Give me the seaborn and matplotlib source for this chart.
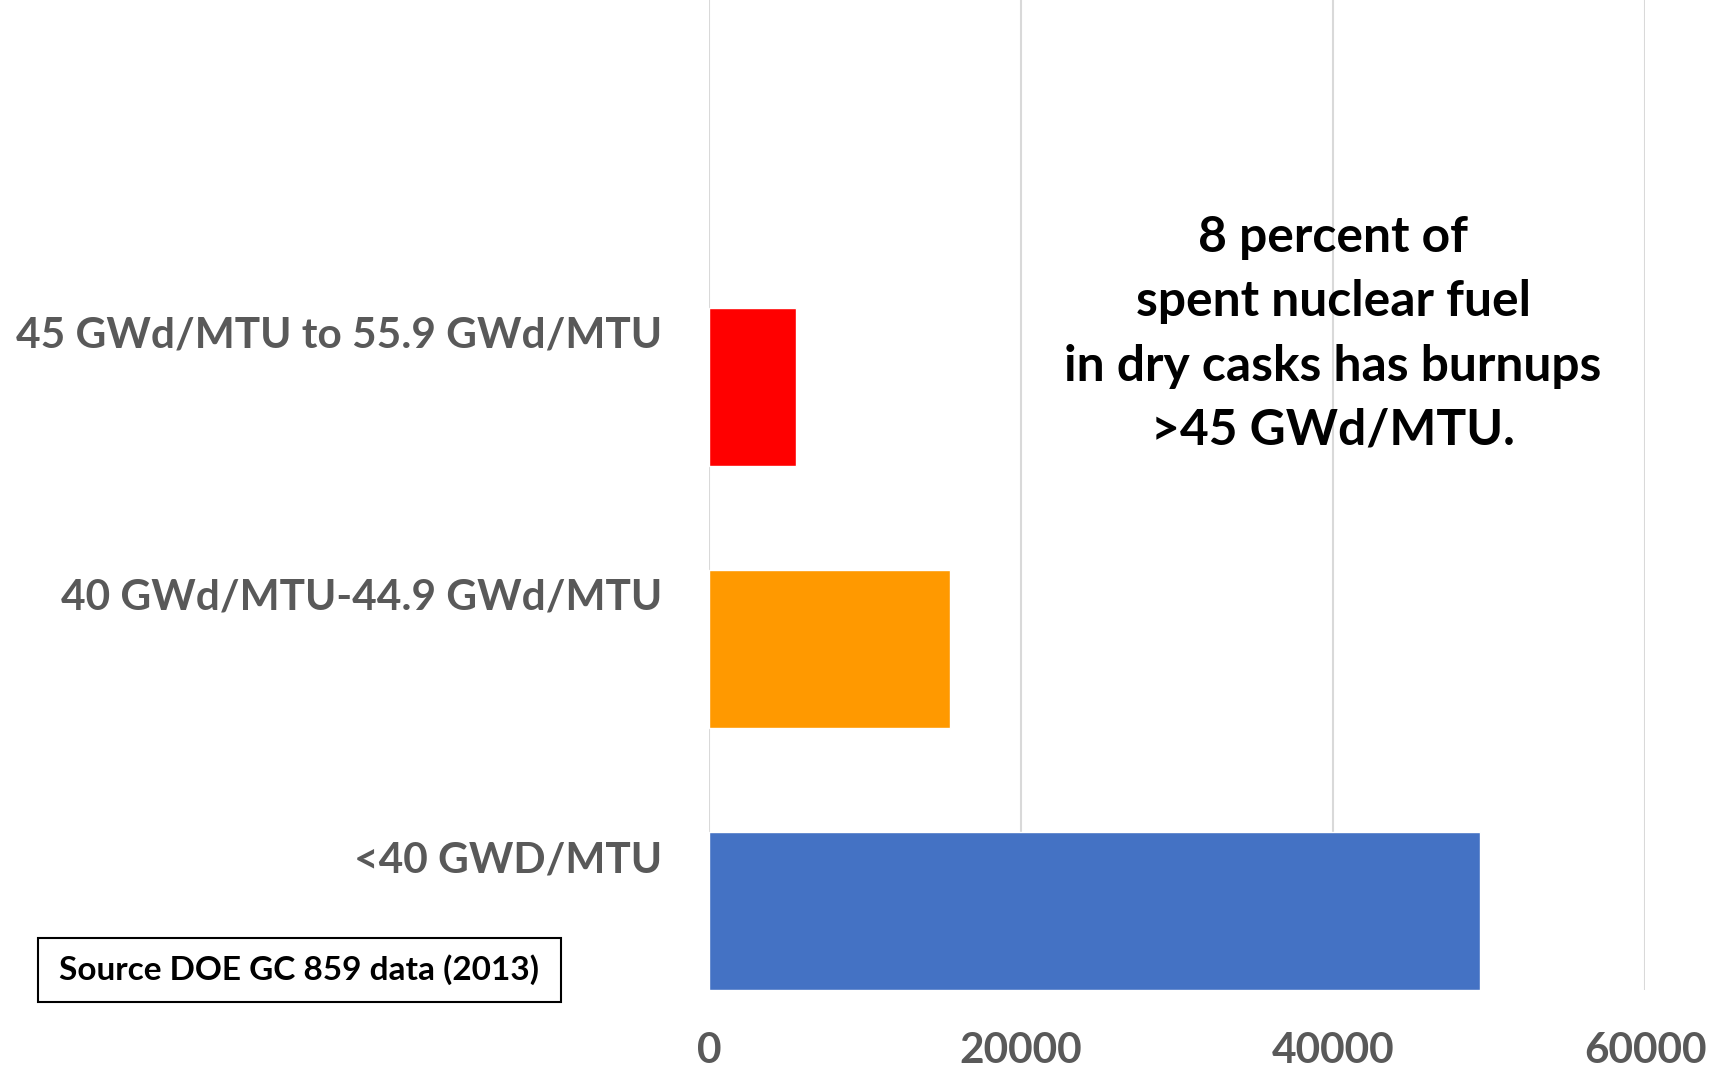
import numpy as np
import matplotlib
matplotlib.use("Agg")
import matplotlib.pyplot as plt
import matplotlib.transforms as mtransforms
import seaborn as sns
import pandas as pd
from matplotlib.patches import Rectangle

# burnup categories, top to bottom as drawn
categories = ["45 GWd/MTU to 55.9 GWd/MTU", "40 GWd/MTU-44.9 GWd/MTU", "<40 GWD/MTU"]
mtu = [5570, 15480, 49400]
colors = ["#FF0000", "#FF9900", "#4472C4"]
xticks = [0, 20000, 40000, 60000]

note = "8 percent of\nspent nuclear fuel\nin dry casks has burnups\n>45 GWd/MTU."
source = "Source DOE GC 859 data (2013)"

df = pd.DataFrame({"cat": categories, "mtu": mtu})

sns.set_style("white")
plt.rcParams['font.family'] = ['Lato', 'DejaVu Sans']

W, H = 1711, 1071
fig = plt.figure(figsize=(W / 100, H / 100), dpi=100)
ax = fig.add_axes([709 / W, 1 - 990 / H, (1645 - 709) / W, 990 / H])

sns.barplot(data=df, x="mtu", y="cat", hue="cat", palette=colors, width=0.6,
            orient="h", legend=False, ax=ax, saturation=1)

ax.set_xlim(0, 60000)
ax.set_ylim(2.3015, -1.477)
ax.set_xticks(xticks)
ax.set_xticklabels([str(v) for v in xticks])
ax.set_xlabel("")
ax.set_ylabel("")
for s in ax.spines.values():
    s.set_visible(False)
ax.grid(axis="x", color="#d9d9d9", linewidth=1.5)
ax.set_axisbelow(True)
ax.tick_params(axis="both", length=0, labelcolor="#595959")
ax.tick_params(axis="x", pad=30, labelsize=30.5)
ax.tick_params(axis="y", pad=34, labelsize=30.5)
# category labels sit a bit above the bar centres in the original
shift = mtransforms.ScaledTranslation(0, 0.545, fig.dpi_scale_trans)
for lab in ax.get_yticklabels():
    lab.set_transform(lab.get_transform() + shift)
for lab in ax.get_xticklabels() + ax.get_yticklabels():
    lab.set_fontweight("bold")

fig.text(1333 / W, 1 - 334 / H, note, ha="center", va="center", fontsize=35.8,
         fontweight="bold", color="black", linespacing=1.52)

fig.patches.append(Rectangle((38 / W, 1 - 1002 / H), (561 - 38) / W, 64 / H,
                             transform=fig.transFigure, fill=False,
                             edgecolor="black", linewidth=1.5))
fig.text(299 / W, 1 - 970 / H, source, ha="center", va="center", fontsize=24,
         fontweight="bold", color="black")

fig.savefig("out.png", dpi=100)
